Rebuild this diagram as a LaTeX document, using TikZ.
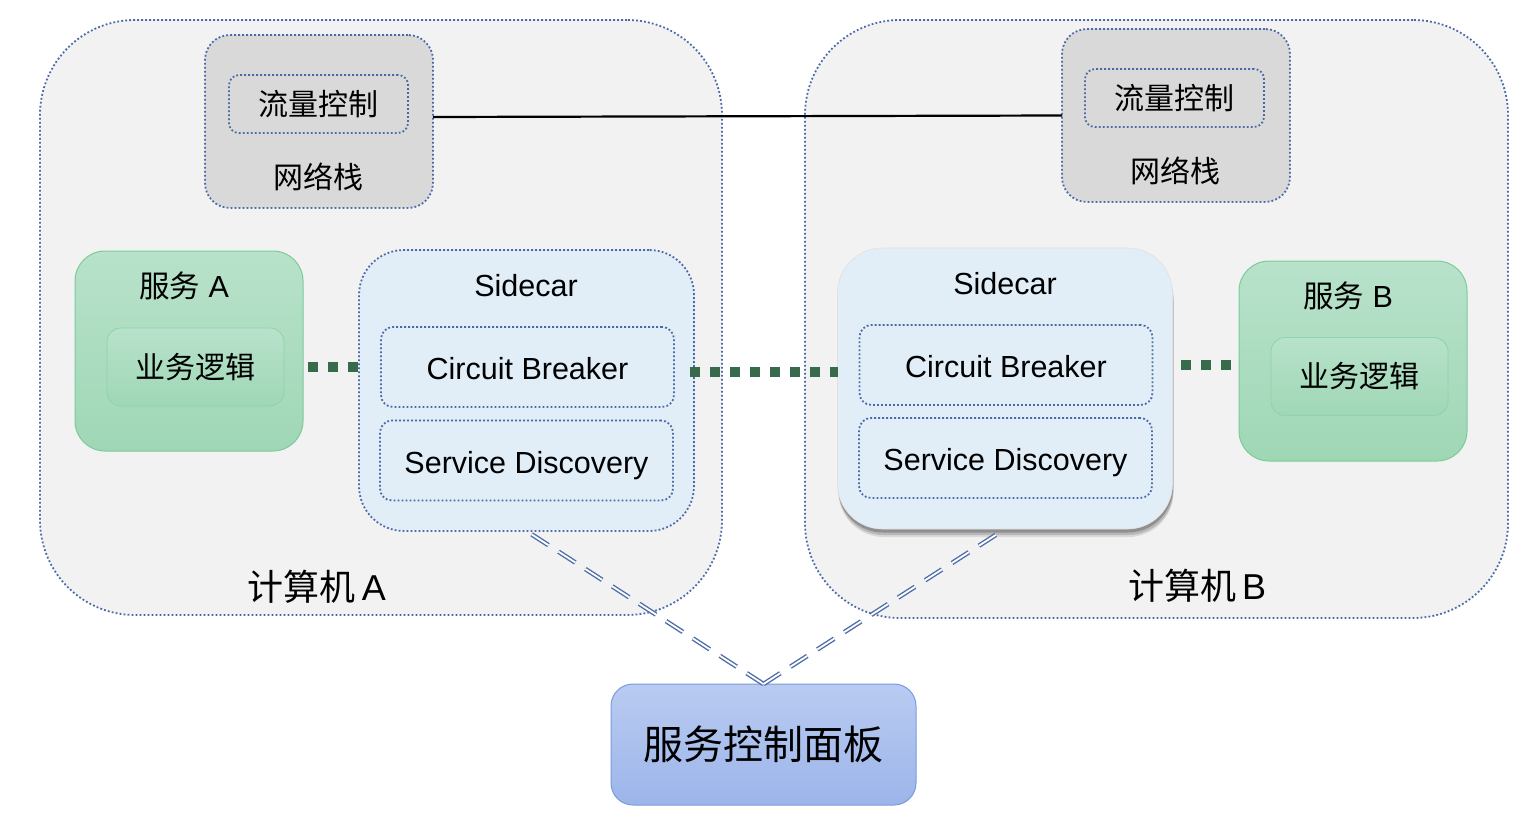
\documentclass[tikz,border=0pt]{standalone}
\usepackage{fontspec}
\setmainfont{Liberation Sans}
\newfontfamily\cjk{Noto Sans CJK SC}
\usetikzlibrary{shadows}
\definecolor{bggray}{HTML}{F2F2F2}
\definecolor{netgray}{HTML}{D9D9D9}
\definecolor{dotblue}{HTML}{4A69A8}
\definecolor{sidefill}{HTML}{E1EEF8}
\definecolor{gtop}{HTML}{B8E2CB}
\definecolor{gbot}{HTML}{9FD7B5}
\definecolor{gborder}{HTML}{7CCB98}
\definecolor{ginner}{HTML}{8FD3A8}
\definecolor{ptop}{HTML}{B9CBF1}
\definecolor{pbot}{HTML}{9CB5EA}
\definecolor{pborder}{HTML}{7B9CDC}
\definecolor{lineblue}{HTML}{4F6EA8}
\definecolor{dgreen}{HTML}{386B4B}
\begin{document}
\begin{tikzpicture}[x=1pt,y=-1pt,
  box/.style={rectangle, inner sep=0pt, outer sep=0pt},
  dotline/.style={line width=1.8pt, dash pattern=on 1.8pt off 2.2pt},
  comp/.style={box, fill=bggray, draw=dotblue, dotline, rounded corners=95pt},
  netbox/.style={box, fill=netgray, draw=dotblue, dotline, rounded corners=25pt, minimum width=228pt, minimum height=173pt},
  flowbox/.style={box, draw=dotblue, dotline, rounded corners=10pt, minimum width=179pt, minimum height=58pt, font=\cjk\fontsize{30}{36}\selectfont},
  svcbox/.style={box, top color=gtop, bottom color=gbot, draw=gborder, line width=1pt, rounded corners=30pt, minimum width=228pt, minimum height=200pt},
  bizbox/.style={box, top color=gtop, bottom color=gbot, draw=ginner, line width=0.8pt, rounded corners=14pt, minimum width=177pt, minimum height=78pt, font=\cjk\fontsize{30}{36}\selectfont},
  sidebox/.style={box, fill=sidefill, rounded corners=45pt, minimum width=335pt, minimum height=281pt},
  innerbox/.style={box, draw=dotblue, dotline, rounded corners=12pt, minimum width=293pt, minimum height=80pt, text height=25.5pt, text depth=0pt, font=\fontsize{30.5}{36}\selectfont},
  cjklabel/.style={inner sep=0pt, font=\cjk\fontsize{30}{36}\selectfont},
  latlabel/.style={inner sep=0pt, font=\fontsize{30.5}{36}\selectfont},
  complabel/.style={inner sep=0pt, font=\fontsize{36}{42}\selectfont},
  gdots/.style={draw=dgreen, line width=10pt, dash pattern=on 10pt off 10pt},
  ctrl/.style={draw=lineblue, line width=1.4pt, double=white, double distance=1.8pt, dash pattern=on 20pt off 12pt}
]
\useasboundingbox (0,0) rectangle (1536,822);
\fill[white] (0,0) rectangle (1536,822);

% computers
\node[comp, minimum width=682pt, minimum height=595pt] (compA) at (381,317.5) {};
\node[comp, minimum width=703pt, minimum height=598pt] (compB) at (1156.5,319) {};
\node[complabel] (labA) at (317,587) {{\cjk 计算机}\,A};
\node[complabel] (labB) at (1197,586) {{\cjk 计算机}\,B};

% network stacks
\node[netbox] (netA) at (319,121.5) {};
\node[flowbox] (flowA) at (318.5,104) {流量控制};
\node[cjklabel] (stkA) at (318,177) {网络栈};
\node[netbox] (netB) at (1176,115.5) {};
\node[flowbox] (flowB) at (1174.5,98) {流量控制};
\node[cjklabel] (stkB) at (1175,171) {网络栈};
\draw[line width=2.2pt, black] ([yshift=4.5pt]netA.east) -- (netB.west);

% control panel
\node[box, top color=ptop, bottom color=pbot, draw=pborder, line width=1pt, rounded corners=22pt, minimum width=305pt, minimum height=121pt, font=\cjk\fontsize{40}{48}\selectfont] (panel) at (763.5,744.5) {服务控制面板};

% services
\node[svcbox] (svcA) at (189,351) {};
\node[latlabel] (svcAl) at (184,286) {{\cjk 服务} A};
\node[bizbox] (bizA) at (195.5,367) {业务逻辑};
\node[svcbox] (svcB) at (1353,361) {};
\node[latlabel] (svcBl) at (1348,296) {{\cjk 服务} B};
\node[bizbox] (bizB) at (1359.5,376.5) {业务逻辑};

% sidecars
\node[sidebox, draw=dotblue, dotline] (sideA) at (526.5,390.5) {};
\node[latlabel] (sideAl) at (526,286) {Sidecar};
\node[innerbox] (cbA) at (527.5,367) {Circuit Breaker};
\node[innerbox] (sdA) at (526.5,460.5) {Service Discovery};

\node[sidebox, draw=black!12, line width=0.6pt,
  drop shadow={shadow xshift=1pt, shadow yshift=-8pt, opacity=0.10, fill=black},
  drop shadow={shadow xshift=1pt, shadow yshift=-6pt, opacity=0.15, fill=black},
  drop shadow={shadow xshift=0.5pt, shadow yshift=-3.5pt, opacity=0.22, fill=black}] (sideB) at (1005,388.5) {};
\node[latlabel] (sideBl) at (1005,284) {Sidecar};
\node[innerbox] (cbB) at (1006,365) {Circuit Breaker};
\node[innerbox] (sdB) at (1005.5,458) {Service Discovery};

\draw[ctrl] (panel.north) -- (sideA.south);
\draw[ctrl] (panel.north) -- (sideB.south);

% green connectors
\draw[gdots] ([xshift=5pt]svcA.east |- bizA) -- (sideA.west |- bizA);
\draw[gdots] ([xshift=-4pt,yshift=-5pt]sideA.east |- cbA) -- ([yshift=-5pt]sideB.west |- cbA);
\draw[gdots] ([xshift=8pt]sideB.east |- cbB) -- (svcB.west |- cbB);
\end{tikzpicture}
\end{document}
